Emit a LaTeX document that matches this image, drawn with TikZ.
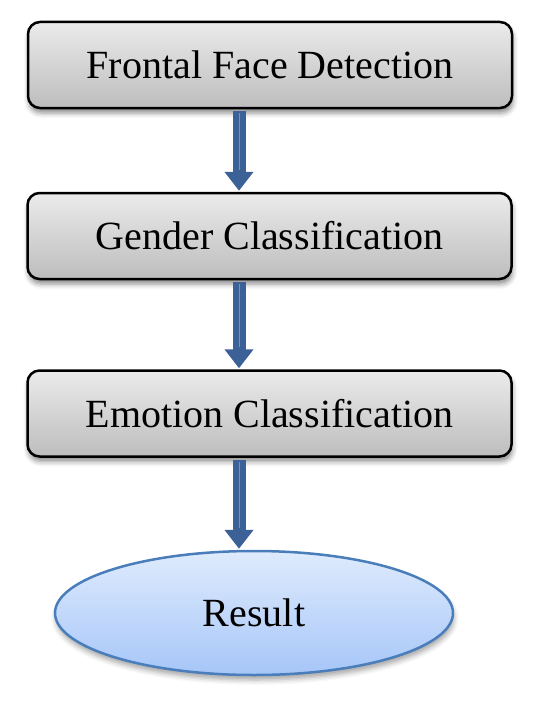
\documentclass[tikz,border=0pt]{standalone}
\usepackage{fontspec}
\setmainfont{Liberation Serif}
\usetikzlibrary{shapes.geometric,arrows.meta,shadows.blur}

\definecolor{boxtop}{HTML}{EBEBEB}
\definecolor{boxbottom}{HTML}{BDBDBD}
\definecolor{arrowblue}{HTML}{3B6196}
\definecolor{arrowlight}{HTML}{6F93CC}
\definecolor{ellline}{HTML}{4A7EBB}
\definecolor{elltop}{HTML}{DFEBFD}
\definecolor{ellbottom}{HTML}{A6C6F8}

\tikzset{
  stagebox/.style={draw=black, line width=2.5pt, rounded corners=12pt,
    top color=boxtop, bottom color=boxbottom,
    minimum width=484pt, minimum height=86pt,
    font=\fontsize{40}{48}\selectfont,
    blur shadow={shadow xshift=1pt, shadow yshift=-5pt, shadow blur radius=5pt, shadow opacity=45}},
  resultnode/.style={ellipse, draw=ellline, line width=2.5pt,
    top color=elltop, bottom color=ellbottom,
    minimum width=398pt, minimum height=124pt, inner sep=0pt,
    font=\fontsize{40}{48}\selectfont,
    blur shadow={shadow xshift=1pt, shadow yshift=-5pt, shadow blur radius=5pt, shadow opacity=35}},
  flowarrow/.style={draw=arrowblue, line width=13pt,
    -{Triangle[width=28pt,length=19pt]}},
  flowshine/.style={draw=arrowlight, line width=1pt}
}

\begin{document}
\begin{tikzpicture}[x=1pt,y=-1pt]
  \useasboundingbox (0,0) rectangle (535,709);

  % Stages
  \node[stagebox] (face) at (270,65) {Frontal Face Detection};
  \node[stagebox] (gender) at (269.5,236) {Gender Classification};
  \node[stagebox] (emotion) at (269.5,413.5) {Emotion Classification};
  \node[resultnode] (result) at (254,613) {Result};

  % Arrows between stages (shifts put them left of the centre line)
  \foreach \a/\sa/\b/\sb in {face/-31/gender/-30.5, gender/-30.5/emotion/-30.5, emotion/-30.5/result/-15} {
    \path[flowarrow] ([xshift=\sa pt,yshift=-2pt]\a.south) -- ([xshift=\sb pt,yshift=1pt]\b.north);
    \draw[flowshine] ([xshift=\sa pt,yshift=-4pt]\a.south) -- ([xshift=\sb pt,yshift=22pt]\b.north);
  }
\end{tikzpicture}
\end{document}
